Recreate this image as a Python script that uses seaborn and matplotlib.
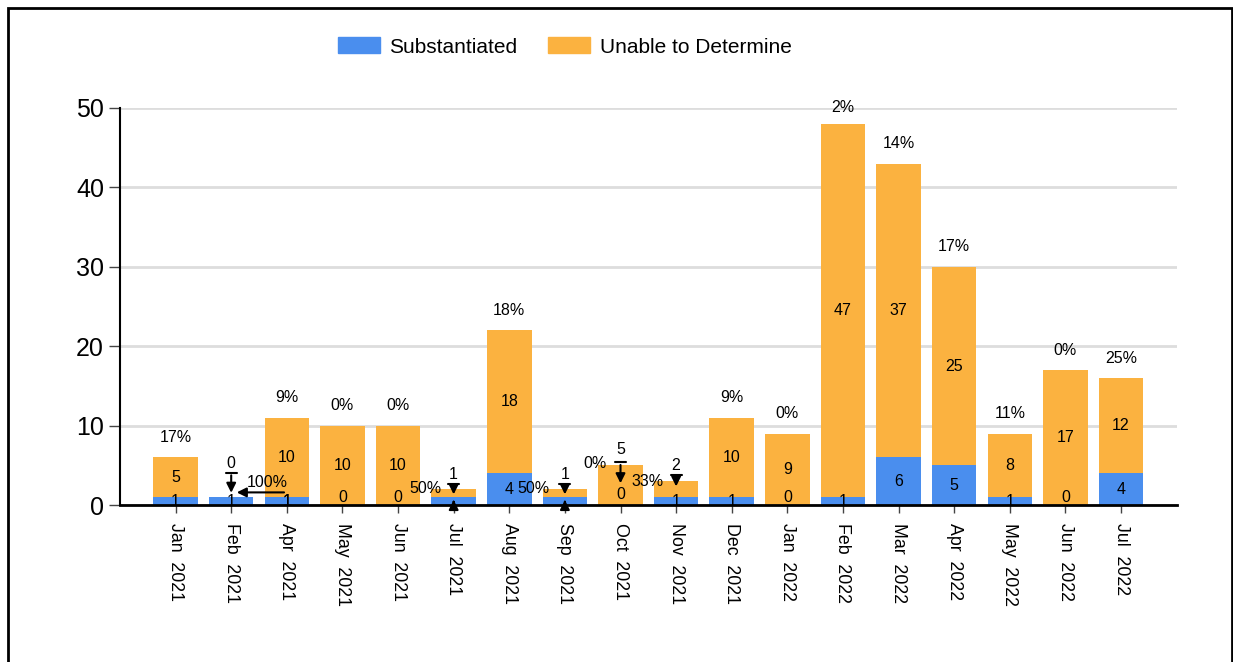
import pandas as pd
import seaborn as sns
import matplotlib.pyplot as plt
from matplotlib.patches import Rectangle, Patch

# data
months = ['Jan  2021', 'Feb  2021', 'Apr  2021', 'May  2021', 'Jun  2021', 'Jul  2021',
          'Aug  2021', 'Sep  2021', 'Oct  2021', 'Nov  2021', 'Dec  2021', 'Jan  2022',
          'Feb  2022', 'Mar  2022', 'Apr  2022', 'May  2022', 'Jun  2022', 'Jul  2022']
substantiated = [1, 1, 1, 0, 0, 1, 4, 1, 0, 1, 1, 0, 1, 6, 5, 1, 0, 4]
unable = [5, 0, 10, 10, 10, 1, 18, 1, 5, 2, 10, 9, 47, 37, 25, 8, 17, 12]
pct_labels = ['17%', '100%', '9%', '0%', '0%', '50%', '18%', '50%', '0%', '33%',
              '9%', '0%', '2%', '14%', '17%', '11%', '0%', '25%']

blue = '#4A8EEE'
orange = '#FBB240'

df = pd.DataFrame({'month': months, 'sub': substantiated, 'unable': unable})
df['total'] = df['sub'] + df['unable']

sns.set_style('white')
plt.rcParams['font.family'] = ['Liberation Sans', 'DejaVu Sans']
plt.rcParams['text.color'] = 'black'
plt.rcParams['xtick.color'] = 'black'
plt.rcParams['ytick.color'] = 'black'

fig = plt.figure(figsize=(12.33, 6.62), dpi=100)
ax = fig.add_axes([0.0973, 0.237, 0.857, 0.6])

sns.barplot(data=df, x='month', y='total', color=orange, width=0.8, ax=ax,
            saturation=1, linewidth=0)
sns.barplot(data=df, x='month', y='sub', color=blue, width=0.8, ax=ax,
            saturation=1, linewidth=0)

ax.set_xlim(-1, 18)
ax.set_ylim(0, 50)
ax.set_yticks([0, 10, 20, 30, 40, 50])
ax.yaxis.grid(True, color='#dddddd', linewidth=2)
ax.set_axisbelow(True)
for s in ['top', 'right']:
    ax.spines[s].set_visible(False)
ax.spines['left'].set_linewidth(1.5)
ax.spines['bottom'].set_linewidth(2)
ax.spines['left'].set_color('black')
ax.spines['bottom'].set_color('black')
ax.tick_params(axis='y', labelsize=18, length=8, width=1, color='#444444', left=True)
ax.tick_params(axis='x', labelsize=12.8, length=6, width=1, color='#444444', bottom=True, pad=7)
ax.set_xticks(range(len(months)))
ax.set_xticklabels(months, rotation=-90, va='top', ha='center')
ax.set_xlabel('')
ax.set_ylabel('')

fs = 11.5
# labels inside segments and percentages above
small = {1, 5, 7, 8, 9}
for i, (s, u, t, p) in enumerate(zip(substantiated, unable, df['total'], pct_labels)):
    if i not in small:
        ax.text(i, min(t + 2.5, 50), p, ha='center', va='center', fontsize=fs)
        ax.text(i, s + u / 2, str(u), ha='center', va='center', fontsize=fs)
        ax.text(i, s / 2 if s > 0 else 0, str(s), ha='center',
                va='center' if s > 0 else 'bottom', fontsize=fs)

arrow = dict(arrowstyle='-|>', color='black', lw=1.5, mutation_scale=14)

# Feb 2021
ax.text(1, 5.3, '0', ha='center', va='center', fontsize=fs)
ax.annotate('', xy=(1, 1.2), xytext=(1, 4.1), arrowprops=dict(arrow))
ax.plot([0.9, 1.1], [4.1, 4.1], color='black', lw=1.5)
ax.text(1.65, 2.9, '100%', ha='center', va='center', fontsize=fs)
ax.annotate('', xy=(1.05, 1.6), xytext=(2.0, 1.6), arrowprops=dict(arrow))
ax.text(1, 0.5, '1', ha='center', va='center', fontsize=fs)
ax.text(2, 0.5, '1', ha='center', va='center', fontsize=fs)

# Jul 2021 / Sep 2021
for i, dx in ((5, 0.51), (7, 0.57)):
    ax.text(i, 3.9, '1', ha='center', va='center', fontsize=fs)
    ax.plot([i - 0.1, i + 0.1], [2.6, 2.6], color='black', lw=1.5)
    ax.annotate('', xy=(i, 1.0), xytext=(i, 2.6), arrowprops=dict(arrow))
    ax.annotate('', xy=(i, 1.0), xytext=(i, 0), arrowprops=dict(arrow))
    ax.text(i - dx, 2.1, '50%', ha='center', va='center', fontsize=fs)

# Oct 2021
ax.text(8, 7.0, '5', ha='center', va='center', fontsize=fs)
ax.plot([7.9, 8.1], [5.4, 5.4], color='black', lw=1.5)
ax.annotate('', xy=(8, 2.4), xytext=(8, 5.4), arrowprops=dict(arrow))
ax.text(7.55, 5.2, '0%', ha='center', va='center', fontsize=fs)
ax.text(8.49, 3.0, '33%', ha='center', va='center', fontsize=fs)
ax.text(8, 1.3, '0', ha='center', va='center', fontsize=fs)

# Nov 2021
ax.text(9, 5.0, '2', ha='center', va='center', fontsize=fs)
ax.plot([8.9, 9.1], [3.8, 3.8], color='black', lw=1.5)
ax.annotate('', xy=(9, 2.0), xytext=(9, 3.8), arrowprops=dict(arrow))
ax.text(9, 0.5, '1', ha='center', va='center', fontsize=fs)

handles = [Patch(color=blue, label='Substantiated'), Patch(color=orange, label='Unable to Determine')]
fig.legend(handles=handles, loc='center', bbox_to_anchor=(0.458, 0.929), ncol=2, frameon=False,
           fontsize=15, handlelength=2.0, handleheight=0.8, columnspacing=1.5, handletextpad=0.45)

# outer frame
fig.patches.append(Rectangle((0.0065, -0.01), 0.993, 0.998, transform=fig.transFigure,
                             fill=False, edgecolor='black', linewidth=2))

fig.savefig('out.png', dpi=100)
